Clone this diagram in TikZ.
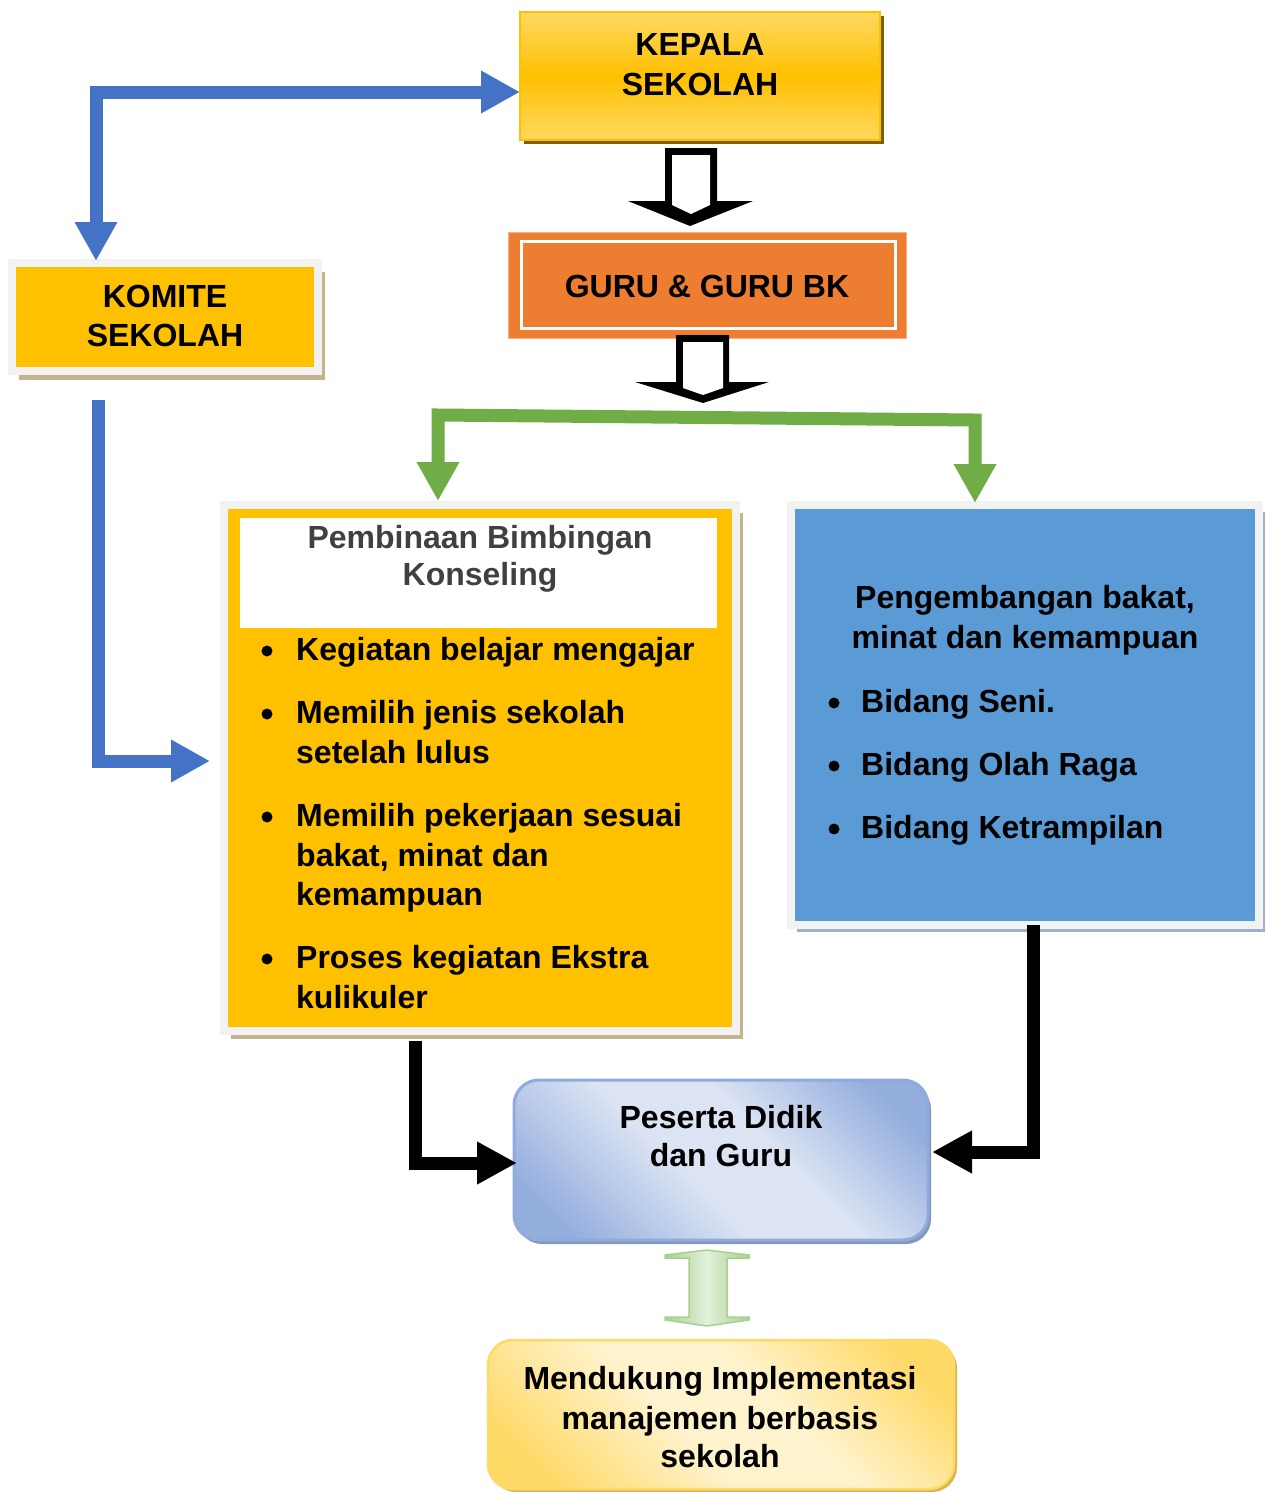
\documentclass[tikz,border=0pt]{standalone}
\usepackage{fontspec}
\setmainfont{Liberation Sans}
\usetikzlibrary{arrows.meta,calc,shadows}

\definecolor{kpTop}{HTML}{FFD862}
\definecolor{kpMid}{HTML}{FFC000}
\definecolor{kpShadow}{HTML}{7F6000}
\definecolor{gold}{HTML}{FFC000}
\definecolor{guruFill}{HTML}{ED7D31}
\definecolor{guruEdge}{HTML}{F4B183}
\definecolor{frameGrey}{HTML}{F2F2F2}
\definecolor{tanShadow}{HTML}{C4B48E}
\definecolor{skyFill}{HTML}{5B9BD5}
\definecolor{skyShadow}{HTML}{9DB2C9}
\definecolor{titleGrey}{HTML}{404040}
\definecolor{pdLight}{HTML}{DCE4F4}
\definecolor{pdDark}{HTML}{93ADDD}
\definecolor{pdEdge}{HTML}{8FAADC}
\definecolor{pdShadow}{HTML}{8497B8}
\definecolor{mbLight}{HTML}{FFF3CE}
\definecolor{mbDark}{HTML}{FFD966}
\definecolor{mbEdge}{HTML}{FFD966}
\definecolor{mbShadow}{HTML}{D9B64A}
\definecolor{linkBlue}{HTML}{4472C4}
\definecolor{linkGreen}{HTML}{70AD47}
\definecolor{dblLight}{HTML}{E2EFDA}
\definecolor{dblEdge}{HTML}{A9D18E}

% diagonal soft gradients for the rounded boxes
\pgfdeclareverticalshading{pdshade}{100bp}{color(0bp)=(pdDark); color(22bp)=(pdDark); color(44bp)=(pdLight); color(58bp)=(pdLight); color(78bp)=(pdDark); color(100bp)=(pdDark)}
\pgfdeclareverticalshading{mbshade}{100bp}{color(0bp)=(mbDark); color(22bp)=(mbDark); color(44bp)=(mbLight); color(58bp)=(mbLight); color(78bp)=(mbDark); color(100bp)=(mbDark)}

\tikzset{
  lbl/.style={font=\fontsize{32}{40}\selectfont\bfseries, inner sep=0pt, anchor=base},
  lblL/.style={lbl, anchor=base west},
  plainbox/.style={rectangle, inner sep=0pt, outer sep=0pt},
  framed/.style={plainbox, draw=frameGrey, line width=8pt},
  conn/.style={line width=13pt, line join=miter},
  bluelink/.style={conn, draw=linkBlue, >={Triangle[length=39pt,width=40pt]}},
  greenlink/.style={conn, draw=linkGreen, >={Triangle[length=39pt,width=40pt]}},
  blacklink/.style={conn, draw=black, >={Triangle[length=40pt,width=40pt]}},
  dot/.style={fill=black}
}

\begin{document}
\begin{tikzpicture}[x=1pt,y=-1pt]
\fill[white] (0,0) rectangle (1266,1492);
\useasboundingbox (0,0) rectangle (1266,1492);

% ---------- boxes ----------
\node[plainbox, minimum width=360pt, minimum height=128pt,
      top color=kpTop, bottom color=kpTop, middle color=kpMid,
      draw=gold, line width=1.5pt,
      drop shadow={shadow xshift=4pt, shadow yshift=-4pt, fill=kpShadow, opacity=1}]
      (kepala) at (700,76) {};

\node[plainbox, minimum width=398pt, minimum height=106pt,
      fill=guruFill, draw=guruEdge, line width=1pt] (guru) at (707,285) {};
\draw[white, line width=3pt] ($(guru.north west)+(13,9)$) rectangle ($(guru.south east)+(-11,-10)$);

\node[framed, fill=gold, minimum width=306pt, minimum height=108pt,
      drop shadow={shadow xshift=7pt, shadow yshift=-9pt, fill=tanShadow, opacity=1}]
      (komite) at (165,317) {};

\node[framed, fill=gold, minimum width=512pt, minimum height=526pt,
      drop shadow={shadow xshift=7pt, shadow yshift=-8pt, fill=tanShadow, opacity=1}]
      (pbk) at (480,768) {};
\fill[white] ($(pbk.north west)+(16,13)$) rectangle ($(pbk.north east)+(-19,123)$);

\node[framed, fill=skyFill, minimum width=468pt, minimum height=419.5pt,
      drop shadow={shadow xshift=6pt, shadow yshift=-7pt, fill=skyShadow, opacity=1}]
      (pkb) at (1025,714.75) {};

\node[plainbox, minimum width=414pt, minimum height=160pt, rounded corners=25pt,
      shading=pdshade, shading angle=-45, draw=pdEdge, line width=3pt,
      drop shadow={shadow xshift=3pt, shadow yshift=-4pt, fill=pdShadow, opacity=1}]
      (peserta) at (721,1160) {};

\node[plainbox, minimum width=466pt, minimum height=149pt, rounded corners=25pt,
      shading=mbshade, shading angle=-45, draw=mbEdge, line width=2.5pt,
      drop shadow={shadow xshift=3pt, shadow yshift=-3pt, fill=mbShadow, opacity=1}]
      (mendukung) at (721,1414.5) {};

% ---------- hollow block arrows ----------
\begin{scope}[shift={(kepala.south)}]
  \fill[black] (-35,8) -- (17,8) -- (17,61) -- (53,61) -- (-10,86) -- (-72,61) -- (-35,61) -- cycle;
  \fill[white] (-28,15) -- (10,15) -- (10,65) -- (-9,74) -- (-28,65) -- cycle;
\end{scope}
\begin{scope}[shift={(guru.south)}]
  \fill[black] (-31,-3) -- (22,-3) -- (22,44) -- (62,44) -- (-4,65) -- (-72,44) -- (-31,44) -- cycle;
  \fill[white] (-24,4) -- (16,4) -- (16,50) -- (-4,57) -- (-24,50) -- cycle;
\end{scope}

% ---------- two-headed link between the lower boxes ----------
\begin{scope}[shift={(peserta.south)}]
  \draw[dblEdge, line width=1.5pt, left color=dblEdge, right color=dblEdge, middle color=dblLight]
    (-14,10) -- (28,15) -- (28,18) -- (6,18) -- (6,77) -- (28,77) -- (28,80) -- (-14,86)
    -- (-56,80) -- (-56,77) -- (-32,77) -- (-32,18) -- (-56,18) -- (-56,15) -- cycle;
\end{scope}

% ---------- connectors ----------
\draw[bluelink, <->] ($(kepala.west)+(0,16)$) -| ($(komite.north west)+(84,-2)$);
\draw[bluelink, ->] ($(komite.south west)+(86,29)$) |- ($(pbk.west)+(-14,-7)$);

\draw[greenlink, <->] ($(pbk.north west)+(214,-4)$) -- ($(pbk.north west)+(214,-90)$)
   -- ($(pkb.north west)+(184,-85)$) -- ($(pkb.north west)+(184,-2)$);

\draw[blacklink, ->] ($(pbk.south)+(-65,10)$) |- ($(peserta.west)+(3,3)$);
\draw[blacklink, ->] ($(pkb.south)+(8,0)$) |- ($(peserta.east)+(4,-8)$);

% ---------- texts ----------
\node[lbl] (kepalaA) at (700,55) {KEPALA};
\node[lbl] (kepalaB) at (700,95) {SEKOLAH};
\node[lbl] (guruT) at (707,297) {GURU \& GURU BK};
\node[lbl] (komiteA) at (165,307) {KOMITE};
\node[lbl] (komiteB) at (165,346) {SEKOLAH};

\node[lbl, text=titleGrey] (pbkA) at (480,548) {Pembinaan Bimbingan};
\node[lbl, text=titleGrey] (pbkB) at (480,585) {Konseling};

\fill[dot] (267,651) circle[radius=5.5pt];
\fill[dot] (267,714) circle[radius=5.5pt];
\fill[dot] (267,817) circle[radius=5.5pt];
\fill[dot] (267,959) circle[radius=5.5pt];
\node[lblL] (iA)  at (296,660)  {Kegiatan belajar mengajar};
\node[lblL] (iB1) at (296,723)  {Memilih jenis sekolah};
\node[lblL] (iB2) at (296,763)  {setelah lulus};
\node[lblL] (iC1) at (296,826)  {Memilih pekerjaan sesuai};
\node[lblL] (iC2) at (296,866)  {bakat, minat dan};
\node[lblL] (iC3) at (296,905)  {kemampuan};
\node[lblL] (iD1) at (296,968)  {Proses kegiatan Ekstra};
\node[lblL] (iD2) at (296,1008) {kulikuler};

\node[lbl] (pkbA) at (1025,608) {Pengembangan bakat,};
\node[lbl] (pkbB) at (1025,648) {minat dan kemampuan};
\fill[dot] (834,703) circle[radius=5.5pt];
\fill[dot] (834,766) circle[radius=5.5pt];
\fill[dot] (834,829) circle[radius=5.5pt];
\node[lblL] (rA) at (861,712) {Bidang Seni.};
\node[lblL] (rB) at (861,775) {Bidang Olah Raga};
\node[lblL] (rC) at (861,838) {Bidang Ketrampilan};

\node[lbl] (pesertaA) at (721,1128) {Peserta Didik};
\node[lbl] (pesertaB) at (721,1166) {dan Guru};

\node[lbl] (mbA) at (720,1389) {Mendukung Implementasi};
\node[lbl] (mbB) at (720,1429) {manajemen berbasis};
\node[lbl] (mbC) at (720,1467) {sekolah};
\end{tikzpicture}
\end{document}
